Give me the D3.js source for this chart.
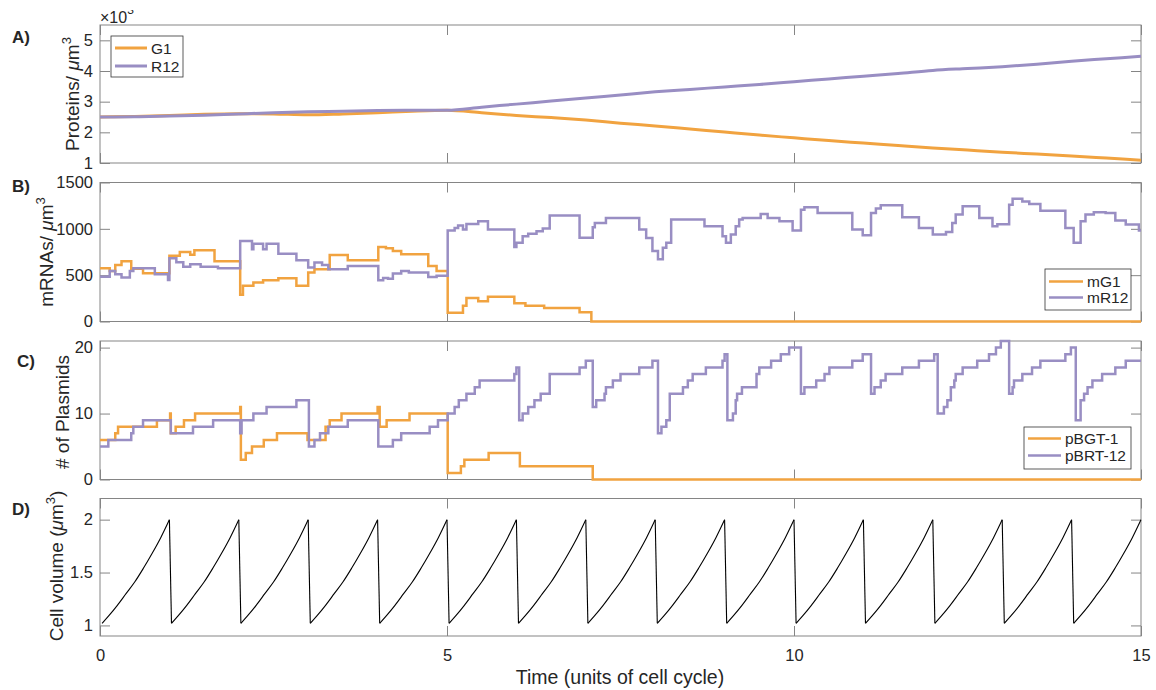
<!DOCTYPE html>
<html>
<head>
<meta charset="utf-8">
<script src="https://cdn.jsdelivr.net/npm/d3@7"></script>
<style>
  body { margin: 0; background: #fff; }
  svg { display: block; }
  text { font-family: "Liberation Sans", Arial, Helvetica, sans-serif; fill: #262626; }
</style>
</head>
<body>
<svg id="fig" width="1156" height="690"></svg>
<script>
// ---------------- data ----------------
const timeTicks = [0, 5, 10, 15];

// A) protein concentration, in units of 10^3 per µm³, every half cell cycle
const proteinTime = [0,0.5,1,1.5,2,2.5,3,3.5,4,4.5,5,5.5,6,6.5,7,7.5,8,8.5,9,9.5,10,10.5,11,11.5,12,12.5,13,13.5,14,14.5,15];
const proteinG1  = [2.50,2.52,2.55,2.59,2.61,2.60,2.57,2.60,2.64,2.69,2.72,2.64,2.55,2.48,2.40,2.30,2.21,2.11,2.01,1.91,1.82,1.73,1.65,1.57,1.49,1.42,1.35,1.29,1.23,1.16,1.09];
const proteinR12 = [2.50,2.51,2.53,2.56,2.60,2.64,2.67,2.69,2.71,2.72,2.72,2.82,2.92,3.02,3.12,3.22,3.32,3.40,3.48,3.56,3.65,3.74,3.83,3.92,4.02,4.08,4.14,4.22,4.32,4.40,4.48];
const proteinTicks = [1, 2, 3, 4, 5];

// B) mRNA concentration (per µm³), [time, value] at each change
const mG1 = [[0,575],[0.14,545],[0.22,610],[0.31,650],[0.45,570],[0.62,520],[1.0,710],[1.15,750],[1.3,720],[1.36,770],[1.65,650],
  [2.02,290],[2.06,386],[2.21,421],[2.35,446],[2.57,468],[2.83,386],[3.0,530],[3.09,564],[3.31,718],[3.57,661],
  [4.01,804],[4.12,790],[4.22,761],[4.34,725],[4.73,600],[4.85,546],[5.01,95],[5.23,171],[5.28,254],[5.45,218],[5.59,268],
  [5.97,196],[6.13,171],[6.40,146],[6.91,100],[7.08,0],[15,0]];
const mR12 = [[0,482],[0.14,546],[0.22,511],[0.31,475],[0.43,546],[0.48,575],[0.79,511],[0.98,447],[1.0,682],[1.1,640],[1.2,590],
  [1.3,618],[1.45,590],[1.7,575],[2.02,868],[2.19,779],[2.21,839],[2.35,779],[2.40,839],[2.57,732],[2.83,661],[3.0,582],
  [3.09,636],[3.2,610],[3.29,564],[3.57,600],[4.01,446],[4.08,470],[4.15,460],[4.22,518],[4.34,546],[4.45,530],[4.73,480],
  [4.85,493],[5.01,982],[5.11,1010],[5.16,1036],[5.23,993],[5.28,1053],[5.45,1082],[5.59,993],[5.97,804],[6.00,850],
  [6.09,921],[6.17,946],[6.29,975],[6.38,1004],[6.48,1143],[6.91,903],[7.10,1018],[7.13,1064],[7.29,1118],[7.77,993],
  [7.87,900],[7.96,760],[8.04,672],[8.11,796],[8.16,850],[8.23,1100],[8.71,1028],[8.97,921],[9.02,850],[9.09,940],
  [9.16,1028],[9.21,1100],[9.26,1118],[9.52,1161],[9.62,1118],[9.79,1082],[9.98,982],[10.10,1207],[10.15,1232],
  [10.34,1171],[10.84,993],[10.99,932],[11.11,1171],[11.18,1220],[11.25,1254],[11.56,1125],[11.80,1010],[12.00,940],
  [12.19,965],[12.28,1064],[12.33,1154],[12.43,1243],[12.67,1118],[12.86,1028],[12.93,1050],[13.10,1261],[13.15,1325],
  [13.29,1296],[13.39,1268],[13.55,1196],[13.91,1010],[14.03,850],[14.13,1082],[14.20,1154],[14.32,1179],[14.49,1170],
  [14.63,1090],[14.78,1046],[14.97,982],[15,982]];
const mrnaTicks = [0, 500, 1000, 1500];

// C) plasmid copy numbers, [time, count] at each change
const pBGT1 = [[0,6],[0.22,7],[0.26,8],[0.82,9],[1.01,10],[1.02,7],[1.09,8],[1.21,9],[1.37,10],[2.02,11],[2.03,3],[2.10,4],
  [2.19,5],[2.36,6],[2.55,7],[2.99,6],[3.25,8],[3.31,9],[3.48,10],[4.0,11],[4.03,8],[4.13,9],[4.46,10],[5.01,1],[5.2,2],
  [5.25,3],[5.6,4],[6.05,2],[7.1,0],[15,0]];
const pBRT12 = [[0,5],[0.12,6],[0.45,7],[0.48,8],[0.62,9],[1.02,7],[1.34,8],[1.63,9],[2.02,7],[2.04,9],[2.21,10],[2.40,11],
  [2.83,12],[3.01,5],[3.09,6],[3.17,7],[3.29,8],[3.57,9],[4.01,5],[4.22,6],[4.34,7],[4.75,8],[4.87,9],[5.01,10],[5.11,11],
  [5.17,12],[5.28,13],[5.40,14],[5.47,15],[5.97,16],[6.00,17],[6.04,9],[6.09,10],[6.17,11],[6.26,12],[6.35,13],[6.48,16],
  [6.91,17],[7.00,18],[7.10,11],[7.15,12],[7.27,13],[7.29,14],[7.39,15],[7.50,16],[7.77,17],[7.96,18],[8.04,7],[8.09,8],
  [8.16,9],[8.21,13],[8.40,14],[8.47,15],[8.54,16],[8.73,17],[8.97,18],[9.00,19],[9.04,9],[9.12,10],[9.16,12],[9.18,13],
  [9.25,14],[9.46,16],[9.50,17],[9.67,18],[9.81,19],[9.93,20],[10.10,13],[10.15,14],[10.32,15],[10.44,16],[10.51,17],
  [10.84,18],[10.99,19],[11.11,13],[11.16,14],[11.25,15],[11.32,16],[11.56,17],[11.80,18],[12.02,19],[12.07,10],[12.16,11],
  [12.21,12],[12.26,14],[12.31,15],[12.33,16],[12.43,17],[12.64,18],[12.81,19],[12.91,20],[12.98,21],[13.10,13],[13.15,14],
  [13.17,15],[13.29,16],[13.43,17],[13.55,18],[13.91,19],[13.99,20],[14.06,9],[14.13,12],[14.18,13],[14.23,14],[14.30,15],
  [14.44,16],[14.63,17],[14.78,18],[15,18]];
const plasmidTicks = [0, 10, 20];

// D) cell volume (µm³): growth within one cycle, repeated at each division
const divisionTimes = [0,1,2,3,4,5,6,7,8,9,10,11,12,13,14];
const cyclePhase  = [0.03,0.125,0.25,0.375,0.5,0.625,0.75,0.875,1.0];
const cycleVolume = [1.02,1.09,1.19,1.30,1.41,1.54,1.68,1.83,2.00];
const volumeTicks = [1, 1.5, 2];

// ---------------- styling ----------------
const ORANGE = "#f1a340";
const PURPLE = "#998ec3";
const AXIS = "#858585";
const LEFT = 100, RIGHT = 1141;

const svg = d3.select("#fig");
const x = d3.scaleLinear().domain([0, 15]).range([LEFT, RIGHT]);

function addPanel(cfg) {
  const y = d3.scaleLinear().domain(cfg.domain).range([cfg.bottom, cfg.top]);
  const g = svg.append("g");

  // axes box and inward ticks on all four sides
  g.append("rect").attr("x", LEFT).attr("y", cfg.top)
    .attr("width", RIGHT - LEFT).attr("height", cfg.bottom - cfg.top)
    .attr("fill", "none").attr("stroke", AXIS).attr("stroke-width", 1);

  const left = g.append("g").attr("transform", `translate(${LEFT},0)`)
    .call(d3.axisLeft(y).tickValues(cfg.ticks).tickSize(-10).tickPadding(7).tickFormat(cfg.fmt || d3.format("")));
  const right = g.append("g").attr("transform", `translate(${RIGHT},0)`)
    .call(d3.axisRight(y).tickValues(cfg.ticks).tickSize(-10).tickFormat(""));
  const bottom = g.append("g").attr("transform", `translate(0,${cfg.bottom})`)
    .call(d3.axisBottom(x).tickValues(timeTicks).tickSize(-10).tickPadding(13)
      .tickFormat(cfg.xLabels ? d3.format("") : ""));
  const top = g.append("g").attr("transform", `translate(0,${cfg.top})`)
    .call(d3.axisTop(x).tickValues(timeTicks).tickSize(-10).tickFormat(""));
  [left, right, bottom, top].forEach(a => {
    a.select(".domain").remove();
    a.selectAll(".tick line").attr("stroke", AXIS);
    a.selectAll(".tick text").attr("font-size", 16.5).attr("fill", "#262626")
      .attr("font-family", '"Liberation Sans", Arial, sans-serif');
  });

  // data area clip
  const clipId = "clip-" + cfg.id;
  svg.append("clipPath").attr("id", clipId).append("rect")
    .attr("x", LEFT - 2).attr("y", cfg.top - 2)
    .attr("width", RIGHT - LEFT + 4).attr("height", cfg.bottom - cfg.top + 4);
  const plot = g.append("g").attr("clip-path", `url(#${clipId})`);

  // panel letter
  g.append("text").attr("x", cfg.letterX).attr("y", cfg.letterY)
    .attr("font-size", 17).attr("font-weight", "bold").attr("fill", "#000").text(cfg.id + ")");

  // rotated y label with superscript support
  const lab = g.append("text")
    .attr("transform", `translate(${cfg.labelX},${cfg.labelY}) rotate(-90)`)
    .attr("text-anchor", "middle").attr("font-size", 19);
  let raised = false;
  cfg.label.forEach(p => {
    const t = lab.append("tspan").text(p.t);
    if (p.italic) t.attr("font-style", "italic");
    if (p.sup) { t.attr("font-size", 13).attr("dy", -8); raised = true; }
    else if (raised) { t.attr("dy", 8); raised = false; }
  });

  return { y, plot, g };
}

function addLegend(g, box, entries) {
  g.append("rect").attr("x", box.x).attr("y", box.y).attr("width", box.w).attr("height", box.h)
    .attr("fill", "#fff").attr("stroke", "#333").attr("stroke-width", 0.8);
  entries.forEach((e, i) => {
    const cy = box.y + box.first + i * box.step;
    g.append("line").attr("x1", box.x + 4).attr("x2", box.x + 4 + box.lineLen)
      .attr("y1", cy).attr("y2", cy).attr("stroke", e.color).attr("stroke-width", e.width);
    g.append("text").attr("x", box.x + 8 + box.lineLen).attr("y", cy + 5.5)
      .attr("font-size", 15.5).text(e.name);
  });
}

const stepLine = y => d3.line().x(d => x(d[0])).y(d => y(d[1])).curve(d3.curveStepAfter);

// ---- A) proteins ----
const A = addPanel({ id: "A", top: 25, bottom: 163, domain: [1, 5.5], ticks: proteinTicks,
  letterX: 12, letterY: 43, labelX: 79, labelY: 94,
  label: [{ t: "Proteins/ " }, { t: "μ", italic: true }, { t: "m" }, { t: "3", sup: true }] });
const protLine = d3.line().x(d => x(d[0])).y(d => A.y(d[1])).curve(d3.curveMonotoneX);
A.plot.append("path").datum(d3.zip(proteinTime, proteinG1)).attr("d", protLine)
  .attr("fill", "none").attr("stroke", ORANGE).attr("stroke-width", 3);
A.plot.append("path").datum(d3.zip(proteinTime, proteinR12)).attr("d", protLine)
  .attr("fill", "none").attr("stroke", PURPLE).attr("stroke-width", 3);
// exponent marker above the axis
svg.append("clipPath").attr("id", "clip-exp").append("rect").attr("x", 0).attr("y", 10).attr("width", 300).attr("height", 20);
const expo = svg.append("text").attr("x", 100).attr("y", 23).attr("font-size", 16)
  .attr("clip-path", "url(#clip-exp)");
expo.append("tspan").text("×10");
expo.append("tspan").attr("font-size", 12).attr("dy", -9).text("3");
addLegend(A.g, { x: 111, y: 36, w: 72, h: 41, first: 12, step: 18, lineLen: 32 },
  [{ name: "G1", color: ORANGE, width: 3 }, { name: "R12", color: PURPLE, width: 3 }]);

// ---- B) mRNAs ----
const B = addPanel({ id: "B", top: 182.5, bottom: 321.5, domain: [0, 1500], ticks: mrnaTicks,
  letterX: 12, letterY: 192, labelX: 53, labelY: 252,
  label: [{ t: "mRNAs/ " }, { t: "μ", italic: true }, { t: "m" }, { t: "3", sup: true }] });
B.plot.append("path").datum(mG1).attr("d", stepLine(B.y))
  .attr("fill", "none").attr("stroke", ORANGE).attr("stroke-width", 2.5);
B.plot.append("path").datum(mR12).attr("d", stepLine(B.y))
  .attr("fill", "none").attr("stroke", PURPLE).attr("stroke-width", 2.5);
addLegend(B.g, { x: 1045, y: 269, w: 86, h: 41, first: 12.5, step: 16, lineLen: 34 },
  [{ name: "mG1", color: ORANGE, width: 2.5 }, { name: "mR12", color: PURPLE, width: 2.5 }]);

// ---- C) plasmids ----
const C = addPanel({ id: "C", top: 341, bottom: 479.5, domain: [0, 21], ticks: plasmidTicks,
  letterX: 17, letterY: 367, labelX: 69, labelY: 412,
  label: [{ t: "# of Plasmids" }] });
C.plot.append("path").datum(pBGT1).attr("d", stepLine(C.y))
  .attr("fill", "none").attr("stroke", ORANGE).attr("stroke-width", 2.5);
C.plot.append("path").datum(pBRT12).attr("d", stepLine(C.y))
  .attr("fill", "none").attr("stroke", PURPLE).attr("stroke-width", 2.5);
addLegend(C.g, { x: 1024, y: 427, w: 107, h: 42, first: 11.5, step: 17, lineLen: 33 },
  [{ name: "pBGT-1", color: ORANGE, width: 2.5 }, { name: "pBRT-12", color: PURPLE, width: 2.5 }]);

// ---- D) cell volume ----
const D = addPanel({ id: "D", top: 498.5, bottom: 636, domain: [0.9, 2.2], ticks: volumeTicks, xLabels: true,
  letterX: 12, letterY: 515, labelX: 63, labelY: 566, fmt: d3.format(""),
  label: [{ t: "Cell volume (" }, { t: "μ", italic: true }, { t: "m" }, { t: "3", sup: true }, { t: ")" }] });
const growLine = d3.line().x(d => x(d[0])).y(d => D.y(d[1])).curve(d3.curveMonotoneX);
divisionTimes.forEach((s, i) => {
  const pts = cyclePhase.map((ph, k) => [s + ph, cycleVolume[k]]);
  D.plot.append("path").datum(pts).attr("d", growLine)
    .attr("fill", "none").attr("stroke", "#000").attr("stroke-width", 1.1);
  if (i < divisionTimes.length - 1) {
    // division: volume halves
    const nxt = divisionTimes[i + 1];
    D.plot.append("path").datum([[nxt, cycleVolume[cycleVolume.length - 1]], [nxt + cyclePhase[0], cycleVolume[0]]])
      .attr("d", d3.line().x(d => x(d[0])).y(d => D.y(d[1])))
      .attr("fill", "none").attr("stroke", "#000").attr("stroke-width", 1.1);
  }
});

// x-axis title
svg.append("text").attr("x", 620).attr("y", 684).attr("text-anchor", "middle")
  .attr("font-size", 19.5).text("Time (units of cell cycle)");
</script>
</body>
</html>
